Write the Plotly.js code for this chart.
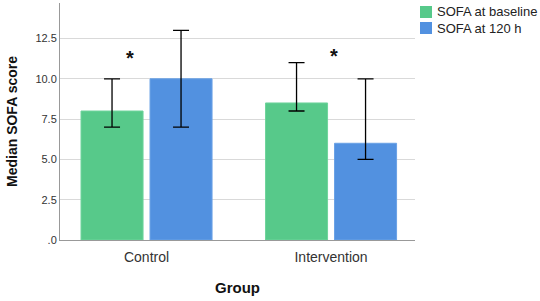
<!DOCTYPE html>
<html><head><meta charset="utf-8">
<script src="https://cdn.plot.ly/plotly-3.0.1.min.js"></script>
<style>html,body{margin:0;padding:0;background:#fff}#chart{width:540px;height:301px}</style>
</head><body><div id="chart"></div>
<script>
const groups = ["Control", "Intervention"];
const seriesNames = ["SOFA at baseline", "SOFA at 120 h"];
const baseline = [8, 8.5];
const baselineLow = [7, 8];
const baselineHigh = [10, 11];
const h120 = [10, 6];
const h120Low = [7, 5];
const h120High = [13, 10];
const yTickVals = [0, 2.5, 5, 7.5, 10, 12.5];
const yTickText = [".0", "2.5", "5.0", "7.5", "10.0", "12.5"];
const starGroups = ["Control", "Intervention"];
const starY = [11.3, 11.4];

const colors = ['#57c98a', '#5291e0'];
const lineColors = ['#6fd49c', '#6aa2e6'];
const font = "Liberation Sans, Arial, sans-serif";
function errs(v, lo, hi){
  return {type:'data', symmetric:false,
    array: v.map((x,i)=>hi[i]-x), arrayminus: v.map((x,i)=>x-lo[i]),
    color:'#000', thickness:1.3, width:8};
}
const traces = [
  {type:'bar', name:seriesNames[0], x:groups, y:baseline,
   marker:{color:colors[0], line:{color:lineColors[0], width:1}},
   error_y: errs(baseline, baselineLow, baselineHigh)},
  {type:'bar', name:seriesNames[1], x:groups, y:h120,
   marker:{color:colors[1], line:{color:lineColors[1], width:1}},
   error_y: errs(h120, h120Low, h120High)}
];
// manual legend (outside plot, right side)
const legShapes = seriesNames.map((n,i)=>({type:'rect', xref:'paper', yref:'paper',
  x0: 1.0141, x1: 1.0479, y0: 1.0 - (6+i*16+12-3)/237, y1: 1.0 - (6+i*16-3)/237,
  fillcolor: colors[i], line:{width:0}}));
const legAnn = seriesNames.map((n,i)=>({xref:'paper', yref:'paper', x:1.056, xanchor:'left',
  y: 1.0 - (6+i*16+6-3)/237, yanchor:'middle', text:n, showarrow:false,
  font:{family:font, size:13, color:'#222'}}));
const layout = {
  width:540, height:301,
  margin:{l:60, r:125, t:3, b:61},
  paper_bgcolor:'#fff', plot_bgcolor:'#fff',
  barmode:'group', bargap:0.252, bargroupgap:0.101,
  showlegend:false,
  xaxis:{type:'category', range:[-0.469, 1.455], showline:true, linecolor:'#999', linewidth:1,
    ticks:'', ticklabelstandoff:4, tickfont:{family:font, size:14, color:'#333'}, showgrid:false,
    title:{text:'<b>Group</b>', font:{family:font, size:15, color:'#111'}, standoff:18}},
  yaxis:{range:[0, 14.7], showline:true, linecolor:'#999', linewidth:1,
    tickvals:yTickVals, ticktext:yTickText, ticks:'', tickfont:{family:font, size:11, color:'#333'},
    gridcolor:'#d9d9d9', gridwidth:1, zeroline:false,
    title:{text:'<b>Median SOFA score</b>', font:{family:font, size:14, color:'#111'}, standoff:14}},
  shapes: legShapes,
  annotations: starGroups.map((g,i)=>({x:g, y:starY[i], xshift: i===0 ? -17 : 3, text:'<b>*</b>', showarrow:false,
    font:{family:font, size:20, color:'#111'}})).concat(legAnn),
  font:{family:font}
};
Plotly.newPlot('chart', traces, layout, {staticPlot:true, displayModeBar:false});
</script></body></html>
